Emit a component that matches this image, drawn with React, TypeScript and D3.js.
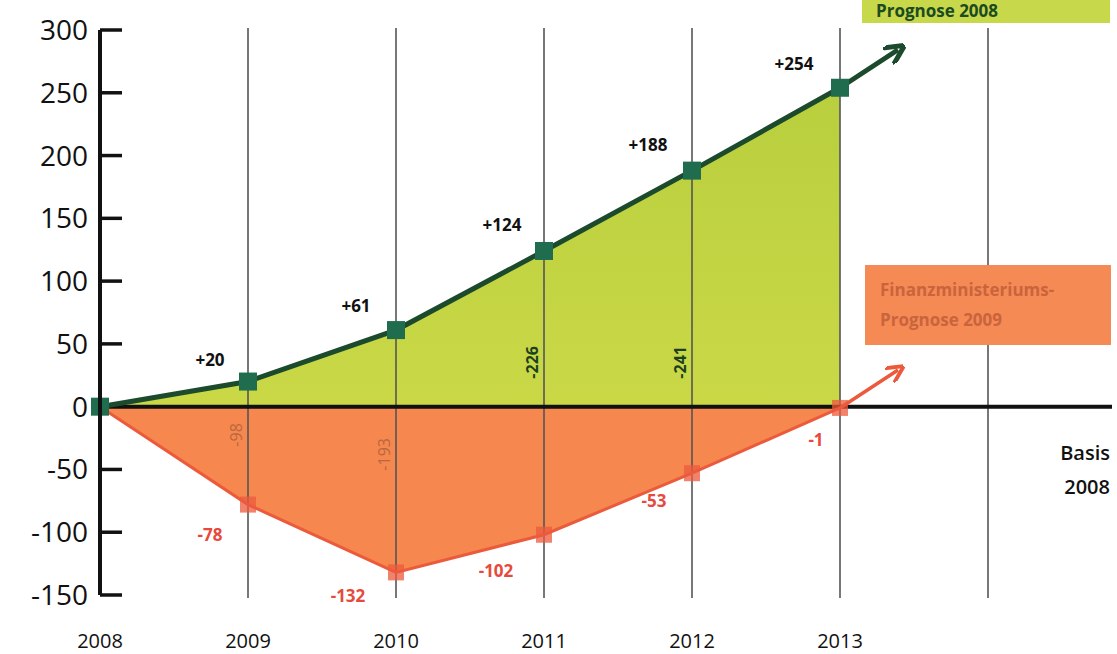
import React from "react";
import * as d3 from "d3";

const years = [2008, 2009, 2010, 2011, 2012, 2013];
const gridYears = [2009, 2010, 2011, 2012, 2013, 2014];
const prognose2008 = [0, 20, 61, 124, 188, 254];
const prognose2009 = [0, -78, -132, -102, -53, -1];
const diffLabels = ["", "-98", "-193", "-226", "-241", ""];
const yTicks = [300, 250, 200, 150, 100, 50, 0, -50, -100, -150];
const greenLabels = ["", "+20", "+61", "+124", "+188", "+254"];
const redLabels = ["", "-78", "-132", "-102", "-53", "-1"];

const W = 1117;
const H = 654;

export default function App() {
  const x = d3.scaleLinear().domain([2008, 2014]).range([100, 988]);
  const y = d3.scaleLinear().domain([-150, 300]).range([595, 30]);

  const gPts: [number, number][] = years.map((yr, i) => [x(yr), y(prognose2008[i])]);
  const rPts: [number, number][] = years.map((yr, i) => [x(yr), y(prognose2009[i])]);

  const area = d3
    .area<[number, number]>()
    .x((d) => d[0])
    .y0(y(0))
    .y1((d) => d[1]);
  const line = d3.line<[number, number]>();

  const font = "'Open Sans', 'DejaVu Sans', sans-serif";
  const greenLine = "#1c4a2c";
  const greenSq = "#1f6d4e";
  const redFill = "#f5874f";
  const redLine = "#ec5a3c";
  const redText = "#e64a3c";

  const lastG = gPts[gPts.length - 1];
  const lastR = rPts[rPts.length - 1];
  const gArrowEnd: [number, number] = [lastG[0] + 58, lastG[1] - 38];
  const rArrowEnd: [number, number] = [lastR[0] + 58, lastR[1] - 38];

  const greenLabelPos = [
    [0, 0],
    [-38, -16],
    [-40, -18],
    [-42, -20],
    [-44, -20],
    [-46, -18],
  ];
  const redLabelPos = [
    [0, 0],
    [-38, 36],
    [-48, 30],
    [-48, 42],
    [-38, 34],
    [-24, 38],
  ];

  return (
    <svg width={W} height={H} style={{ position: "absolute", left: 0, top: 0, background: "#fff" }}>
      <defs>
        <marker id="ag" viewBox="0 0 10 10" refX="6" refY="5" markerWidth="4" markerHeight="4" orient="auto">
          <path d="M0,0 L10,5 L0,10" fill="none" stroke={greenLine} strokeWidth="2.5" />
        </marker>
        <marker id="ar" viewBox="0 0 10 10" refX="6" refY="5" markerWidth="5" markerHeight="5" orient="auto">
          <path d="M0,0 L10,5 L0,10" fill="none" stroke={redLine} strokeWidth="2.2" />
        </marker>
        <linearGradient id="gg" x1="0" y1="0" x2="0" y2="1">
          <stop offset="0" stopColor="#b9cf3e" />
          <stop offset="1" stopColor="#cad846" />
        </linearGradient>
      </defs>

      {/* areas */}
      <path d={area(gPts) || ""} fill="url(#gg)" />
      <path d={area(rPts) || ""} fill={redFill} />

      {/* vertical grid lines */}
      {gridYears.map((yr) => (
        <line key={yr} x1={x(yr)} x2={x(yr)} y1={28} y2={598} stroke="#555" strokeWidth={1.6} />
      ))}

      {/* zero line */}
      <line x1={x(2008)} x2={1112} y1={y(0)} y2={y(0)} stroke="#111" strokeWidth={4} />

      {/* red series */}
      <path d={line(rPts) || ""} fill="none" stroke={redLine} strokeWidth={3} />
      <line x1={lastR[0]} y1={lastR[1]} x2={rArrowEnd[0]} y2={rArrowEnd[1]} stroke={redLine} strokeWidth={3.5} markerEnd="url(#ar)" />
      {rPts.map((p, i) =>
        i === 0 ? null : <rect key={i} x={p[0] - 8} y={p[1] - 8} width={16} height={16} fill={redLine} opacity={0.75} />
      )}

      {/* green series */}
      <path d={line(gPts) || ""} fill="none" stroke={greenLine} strokeWidth={5} />
      <line x1={lastG[0]} y1={lastG[1]} x2={gArrowEnd[0]} y2={gArrowEnd[1]} stroke={greenLine} strokeWidth={5} markerEnd="url(#ag)" />
      {gPts.map((p, i) => (
        <rect key={i} x={p[0] - 9} y={p[1] - 9} width={18} height={18} fill={greenSq} />
      ))}

      {/* y axis */}
      <line x1={x(2008)} x2={x(2008)} y1={y(300)} y2={y(-150)} stroke="#111" strokeWidth={4} />
      {yTicks.map((t) =>
        t === 0 ? null : (
          <line key={t} x1={x(2008)} x2={x(2008) + 22} y1={y(t)} y2={y(t)} stroke="#111" strokeWidth={3.5} />
        )
      )}
      {yTicks.map((t) => (
        <text key={t} x={88} y={y(t) + 10} textAnchor="end" fontFamily={font} fontSize={28} fill="#111">
          {t}
        </text>
      ))}

      {/* x labels */}
      {years.map((yr) => (
        <text key={yr} x={x(yr)} y={648} textAnchor="middle" fontFamily={font} fontSize={20} fill="#111">
          {yr}
        </text>
      ))}

      {/* value labels */}
      {gPts.map((p, i) =>
        greenLabels[i] ? (
          <text key={i} x={p[0] + greenLabelPos[i][0]} y={p[1] + greenLabelPos[i][1]} textAnchor="middle" fontFamily={font} fontSize={17} fontWeight={700} fill="#111">
            {greenLabels[i]}
          </text>
        ) : null
      )}
      {rPts.map((p, i) =>
        redLabels[i] ? (
          <text key={i} x={p[0] + redLabelPos[i][0]} y={p[1] + redLabelPos[i][1]} textAnchor="middle" fontFamily={font} fontSize={17} fontWeight={700} fill={redText}>
            {redLabels[i]}
          </text>
        ) : null
      )}

      {/* difference labels (rotated) */}
      {years.map((yr, i) => {
        if (!diffLabels[i]) return null;
        const neg = i <= 2;
        const px = x(yr) - 6;
        const py = neg ? y(0) + (i === 1 ? 40 : 64) : y(0) - 28;
        return (
          <text
            key={yr}
            transform={`translate(${px},${py}) rotate(-90)`}
            x={0}
            y={0}
            textAnchor="start"
            fontFamily={font}
            fontSize={16}
            fontWeight={neg ? 400 : 700}
            fill={neg ? "#b8683e" : "#1c3f22"}
          >
            {diffLabels[i]}
          </text>
        );
      })}

      {/* legend boxes */}
      <rect x={862} y={-10} width={248} height={33} fill="#c7d84a" />
      <text x={876} y={17} fontFamily={font} fontSize={17} fontWeight={700} fill="#1c4a22">
        Prognose 2008
      </text>

      <rect x={865} y={265} width={246} height={80} fill="#f58a55" />
      <text x={880} y={296} fontFamily={font} fontSize={17} fontWeight={700} fill="#c9643d">
        Finanzministeriums-
      </text>
      <text x={880} y={326} fontFamily={font} fontSize={17} fontWeight={700} fill="#c9643d">
        Prognose 2009
      </text>

      {/* Basis 2008 */}
      <text x={1110} y={460} textAnchor="end" fontFamily={font} fontSize={20} fontWeight={600} fill="#111">
        Basis
      </text>
      <text x={1110} y={494} textAnchor="end" fontFamily={font} fontSize={20} fontWeight={600} fill="#111">
        2008
      </text>
    </svg>
  );
}
